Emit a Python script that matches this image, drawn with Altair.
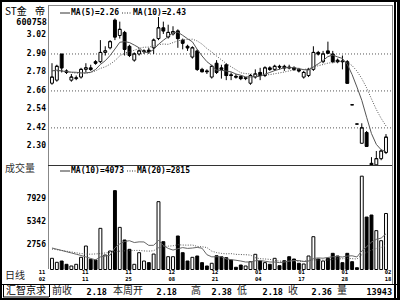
import altair as alt
import pandas as pd

# ---------------- data ----------------
opens = [2.71, 2.73, 2.90, 2.79, 2.73, 2.74, 2.75, 2.80, 2.81, 2.85,
         2.85, 2.91, 2.94, 3.12, 3.02, 3.04, 2.95, 2.86, 2.90, 2.915,
         2.925, 2.94, 3.00, 3.07, 3.01, 3.03, 3.05, 2.99, 2.95, 2.88,
         2.92, 2.80, 2.79, 2.75, 2.84, 2.81, 2.83, 2.765, 2.755, 2.755,
         2.74, 2.71, 2.75, 2.78, 2.76, 2.81, 2.80, 2.82, 2.82, 2.815,
         2.81, 2.80, 2.75, 2.76, 2.80, 2.91, 2.85, 2.92, 2.90, 2.86,
         2.855, 2.85, 2.57, 2.445, 2.32, 2.39, 2.19, 2.18, 2.22, 2.26]
highs = [2.84, 2.83, 2.90, 2.80, 2.77, 2.76, 2.81, 2.84, 2.83, 2.86,
         2.99, 2.95, 2.99, 3.13, 3.11, 3.05, 2.96, 2.91, 2.93, 2.93,
         2.94, 3.00, 3.14, 3.11, 3.09, 3.08, 3.06, 3.00, 2.96, 2.95,
         2.93, 2.81, 2.80, 2.83, 2.86, 2.83, 2.84, 2.78, 2.77, 2.76,
         2.75, 2.77, 2.80, 2.81, 2.82, 2.82, 2.83, 2.83, 2.83, 2.83,
         2.82, 2.81, 2.79, 2.81, 2.95, 2.92, 2.92, 2.98, 2.92, 2.87,
         2.89, 2.86, 2.57, 2.445, 2.45, 2.40, 2.23, 2.27, 2.28, 2.38]
lows = [2.70, 2.72, 2.78, 2.77, 2.72, 2.73, 2.74, 2.78, 2.79, 2.83,
        2.84, 2.89, 2.93, 2.99, 3.00, 2.89, 2.88, 2.85, 2.89, 2.90,
        2.90, 2.90, 2.99, 3.03, 3.00, 3.02, 2.94, 2.93, 2.92, 2.87,
        2.79, 2.78, 2.77, 2.74, 2.77, 2.74, 2.73, 2.73, 2.74, 2.73,
        2.73, 2.70, 2.74, 2.73, 2.75, 2.79, 2.79, 2.80, 2.79, 2.80,
        2.79, 2.78, 2.74, 2.75, 2.79, 2.89, 2.84, 2.90, 2.84, 2.84,
        2.80, 2.71, 2.57, 2.445, 2.32, 2.30, 2.18, 2.18, 2.21, 2.25]
closes = [2.75, 2.82, 2.81, 2.78, 2.75, 2.745, 2.80, 2.81, 2.80, 2.84,
          2.91, 2.92, 2.98, 3.01, 3.06, 2.93, 2.89, 2.90, 2.92, 2.92,
          2.915, 2.99, 3.07, 3.05, 3.04, 3.045, 3.00, 2.97, 2.94, 2.94,
          2.80, 2.785, 2.785, 2.82, 2.78, 2.80, 2.76, 2.76, 2.75, 2.74,
          2.745, 2.76, 2.77, 2.76, 2.81, 2.80, 2.82, 2.815, 2.81, 2.81,
          2.80, 2.79, 2.78, 2.80, 2.91, 2.90, 2.90, 2.905, 2.85, 2.85,
          2.85, 2.71, 2.57, 2.445, 2.42, 2.30, 2.18, 2.22, 2.27, 2.36]
volumes = [1260, 810, 956, 585, 394, 585, 1370, 2640, 1150, 1070,
           4630, 1630, 2080, 8870, 4740, 3320, 2270, 585, 1890, 956,
           770, 1740, 7630, 3130, 1440, 1440, 3770, 1890, 956, 1370,
           1520, 770, 394, 700, 1550, 1440, 1330, 1070, 250, 506,
           394, 880, 1710, 956, 770, 585, 1260, 430, 990, 1440,
           1180, 700, 620, 1520, 3690, 1180, 956, 1260, 1820, 1520,
           770, 1820, 880, 200, 10500, 5900, 6130, 4370, 3240, 6300]

# moving-average values at the start of the window (read from the picture,
# they depend on days before the visible range)
price_ma5_lead = [2.79, 2.795, 2.79, 2.785]
price_ma10_lead = [2.79, 2.79, 2.79, 2.785, 2.78, 2.775, 2.775, 2.775, 2.78]
vol_ma10_lead = [2420, 2280, 2140, 2000, 1860, 1720, 1580, 1420, 1240]
vol_ma20_lead = [2300, 2230, 2150, 2060, 1970, 1880, 1800, 1740, 1720, 1750,
                 1800, 1860, 1920, 2000, 2060, 2100, 2120, 2140, 2150]

price_ticks = [3.02, 2.90, 2.78, 2.66, 2.54, 2.42, 2.30]
price_grid = [2.90, 2.66, 2.42]
vol_ticks = [7929, 5342, 2756]
date_top = ["11", "11", "11", "12", "12", "01", "01", "01", "02"]
date_bot = ["02", "11", "25", "08", "21", "04", "17", "28", "18"]
date_tick_pos = [-2.07, 6.87, 15.8, 24.74, 33.68, 42.62, 51.55, 60.49, 69.43]

info_labels = ["前收", "本周开", "高", "低", "收", "量"]
info_values = ["2.18", "2.18", "2.38", "2.18", "2.36", "13943"]

# ---------------- table ----------------
n = len(opens)
df = pd.DataFrame({"i": list(range(n)), "o": opens, "h": highs, "l": lows,
                   "c": closes, "v": volumes})
df["up"] = df["c"] > df["o"]
df["top"] = df[["o", "c"]].max(axis=1)
df["bot"] = df[["o", "c"]].min(axis=1)
df["x1"] = df["i"] - 0.3
df["x2"] = df["i"] + 0.3
df["zero"] = 0
ma5 = df["c"].rolling(5).mean()
ma5.iloc[:len(price_ma5_lead)] = price_ma5_lead
ma10 = df["c"].rolling(10).mean()
ma10.iloc[:len(price_ma10_lead)] = price_ma10_lead
vma10 = df["v"].rolling(10).mean()
vma10.iloc[:len(vol_ma10_lead)] = vol_ma10_lead
vma20 = df["v"].rolling(20).mean()
vma20.iloc[:len(vol_ma20_lead)] = vol_ma20_lead
df["ma5"], df["ma10"], df["vma10"], df["vma20"] = ma5, ma10, vma10, vma20

# ---------------- scales (layout) ----------------
xs = alt.Scale(domain=[-0.826, 70.24], range=[48, 392], nice=False, zero=False)
ps = alt.Scale(domain=[2.179, 3.218], range=[165, 5], nice=False, zero=False)
vs = alt.Scale(domain=[0, 11800], range=[269.5, 164.6], nice=False, zero=False)

MONO = "DejaVu Sans Mono"
CJK = "Noto Sans CJK SC"
one = pd.DataFrame({"a": [0]})


def hline(x1, x2, y, color="black", w=1, dash=None):
    kw = dict(color=color, strokeWidth=w)
    if dash:
        kw["strokeDash"] = dash
    return alt.Chart(one).mark_rule(**kw).encode(
        x=alt.value(x1), x2=alt.value(x2), y=alt.value(y))


def vline(x, y1, y2, color="black", w=1):
    return alt.Chart(one).mark_rule(color=color, strokeWidth=w).encode(
        x=alt.value(x), y=alt.value(y1), y2=alt.value(y2))


def label(text, x, y, size=8, font=MONO, weight="bold", align="left", color="black"):
    return alt.Chart(pd.DataFrame({"t": [text]})).mark_text(
        align=align, baseline="middle", font=font, fontSize=size,
        fontWeight=weight, color=color).encode(
        x=alt.value(x), y=alt.value(y), text="t:N")


base = alt.Chart(df)
fillc = alt.condition("datum.up", alt.value("white"), alt.value("black"))

grid = alt.Chart(pd.DataFrame({"p": price_grid})).mark_rule(
    color="#555", strokeWidth=1, strokeDash=[1, 2]).encode(
    y=alt.Y("p:Q", scale=ps, axis=None), x=alt.value(48), x2=alt.value(392))

wicks = base.mark_rule(color="black", strokeWidth=1).encode(
    x=alt.X("i:Q", scale=xs, axis=None),
    y=alt.Y("l:Q", scale=ps, axis=None), y2="h:Q")
bodies = base.mark_rect(stroke="black", strokeWidth=1).encode(
    x=alt.X("x1:Q", scale=xs, axis=None), x2="x2:Q",
    y=alt.Y("top:Q", scale=ps, axis=None), y2="bot:Q", fill=fillc)
closeticks = base.mark_rule(color="black", strokeWidth=1).encode(
    x=alt.X("x1:Q", scale=xs, axis=None), x2="x2:Q",
    y=alt.Y("c:Q", scale=ps, axis=None))
ma5_line = base.mark_line(color="#555", strokeWidth=1).encode(
    x=alt.X("i:Q", scale=xs, axis=None), y=alt.Y("ma5:Q", scale=ps, axis=None))
ma10_line = base.mark_line(color="#555", strokeWidth=1, strokeDash=[1, 1.5]).encode(
    x=alt.X("i:Q", scale=xs, axis=None), y=alt.Y("ma10:Q", scale=ps, axis=None))

vbars = base.mark_rect(stroke="black", strokeWidth=1).encode(
    x=alt.X("x1:Q", scale=xs, axis=None), x2="x2:Q",
    y=alt.Y("v:Q", scale=vs, axis=None), y2="zero:Q", fill=fillc)
vma10_line = base.mark_line(color="#666", strokeWidth=1).encode(
    x=alt.X("i:Q", scale=xs, axis=None), y=alt.Y("vma10:Q", scale=vs, axis=None))
vma20_line = base.mark_line(color="#555", strokeWidth=1, strokeDash=[1, 1.5]).encode(
    x=alt.X("i:Q", scale=xs, axis=None), y=alt.Y("vma20:Q", scale=vs, axis=None))

ptick_text = alt.Chart(pd.DataFrame({"p": price_ticks})).mark_text(
    align="right", baseline="middle", font=MONO, fontSize=8, fontWeight="bold",
    color="black").encode(
    y=alt.Y("p:Q", scale=ps, axis=None), x=alt.value(46),
    text=alt.Text("p:Q", format=".2f"))
vtick_text = alt.Chart(pd.DataFrame({"v": vol_ticks})).mark_text(
    align="right", baseline="middle", font=MONO, fontSize=8, fontWeight="bold",
    color="black").encode(
    y=alt.Y("v:Q", scale=vs, axis=None), x=alt.value(46), text=alt.Text("v:Q", format="d"))

ddf = pd.DataFrame({"pos": date_tick_pos, "top": date_top, "bot": date_bot})
date_t = alt.Chart(ddf).mark_text(font=MONO, fontSize=5.5, fontWeight="bold",
                                  baseline="middle", color="black").encode(
    x=alt.X("pos:Q", scale=xs, axis=None), y=alt.value(272), text="top:N")
date_b = alt.Chart(ddf).mark_text(font=MONO, fontSize=5.5, fontWeight="bold",
                                  baseline="middle", color="black").encode(
    x=alt.X("pos:Q", scale=xs, axis=None), y=alt.value(278.5), text="bot:N")

# info bar
info_label_x = [52, 113, 191, 237, 288, 337]
info_value_x = [107, 177, 232, 283, 332, 392]
info_layers = []
for lab, val, lx, vx in zip(info_labels, info_values, info_label_x, info_value_x):
    info_layers.append(label(lab, lx, 291, size=10, font=CJK, weight="normal", color="#222"))
    info_layers.append(label(val, vx, 291.5, size=8.5, align="right"))

texts = [
    label("ST金", 5, 11.5, size=10, font=CJK, weight="normal"),
    label("帝", 35, 11.5, size=10, font=CJK, weight="normal"),
    label("600758", 47, 21.5, size=8.5, align="right"),
    hline(60, 70, 13, color="#333"),
    label("MA(5)=2.26", 71, 13, size=8),
    hline(122, 132, 13, color="#333", dash=[1, 1.5]),
    label("MA(10)=2.43", 133, 13, size=8),
    label("成交量", 5, 169, size=10, font=CJK, weight="normal", color="#333"),
    hline(60, 70, 171, color="#333"),
    label("MA(10)=4073", 71, 171, size=8),
    hline(127, 136, 171, color="#333", dash=[1, 1.5]),
    label("MA(20)=2815", 137, 171, size=8),
    label("日线", 5, 276, size=10, font=CJK, weight="normal", color="#222"),
    label("汇智京求", 26, 291, size=10, font=CJK, weight="normal", align="center"),
]

frame = [
    hline(48, 392, 5.5, color="#888"),
    vline(48.5, 5, 269, color="#888"),
    vline(392.5, 5, 284, color="#888"),
    hline(48, 392, 165.5, color="#333"),
    hline(0, 400, 284.5, color="black"),
    hline(3, 49, 284.5, color="black"),
    hline(3, 49, 297, color="black"),
    vline(3.5, 284, 297, color="black"),
    vline(49.5, 284, 297, color="black"),
    hline(0, 400, 1, color="black", w=2),
    hline(0, 400, 299, color="black", w=2),
    vline(1, 0, 300, color="black", w=2),
    vline(395, 0, 300, color="black", w=2),
    vline(398.5, 0, 300, color="black", w=3),
]

chart = alt.layer(
    grid, wicks, bodies, closeticks, ma5_line, ma10_line,
    vbars, vma10_line, vma20_line, ptick_text, vtick_text, date_t, date_b,
    *texts, *info_layers, *frame
).resolve_scale(y="independent").properties(
    width=400, height=300, autosize=alt.AutoSizeParams(type="none"), padding=0,
    background="white"
).configure_view(strokeWidth=0)

chart.save("out.html", embed_options={"renderer": "svg", "actions": False})
